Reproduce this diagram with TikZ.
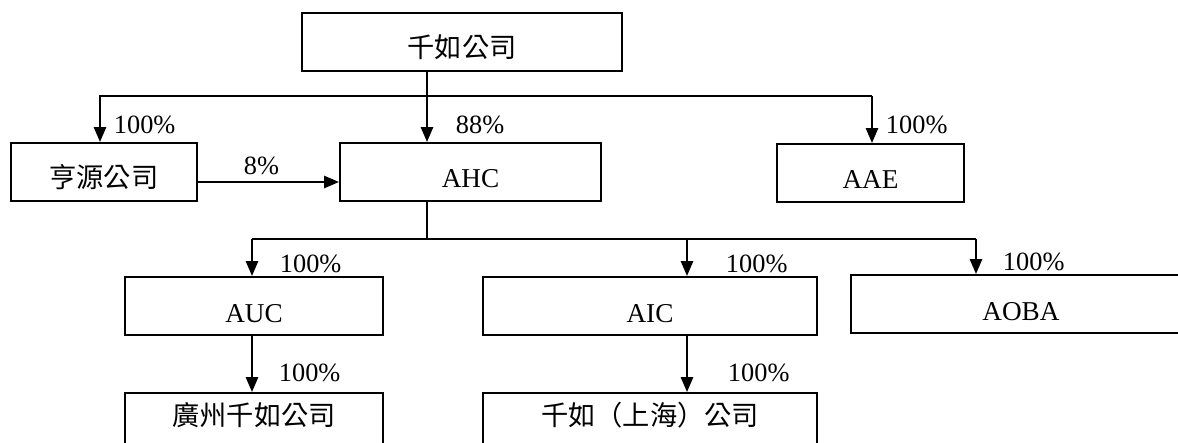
\documentclass[tikz,border=0pt]{standalone}
\usepackage{fontspec}
\setmainfont{Liberation Serif}
\newfontfamily\cjk{Noto Sans CJK TC}
\usetikzlibrary{arrows.meta}

\begin{document}
\begin{tikzpicture}[x=0.02cm,y=-0.02cm,
  line width=1.1pt,
  box node/.style={rectangle,draw,line width=1.2pt,inner sep=0pt,text height=0.9cm,text depth=0.26cm,font=\fontsize{15.5}{18}\selectfont},
  open node/.style={box node,anchor=north,text height=0.64cm,text depth=1.2cm},
  pct node/.style={anchor=base west,inner sep=0pt,font=\fontsize{15}{18}\selectfont},
  arr/.style={-{Triangle[width=7pt,length=8.5pt]}}]
  \useasboundingbox (0,0) rectangle (1178,443);
  \clip (0,0) rectangle (1178,443);

  \node[box node,minimum width=6.4cm] (1) at (462,42) {\cjk 千如公司};
  \node[box node,minimum width=3.72cm] (2) at (104,172) {\cjk 亨源公司};
  \node[box node,minimum width=5.22cm] (3) at (470.5,172) {AHC};
  \node[box node,minimum width=3.74cm] (4) at (870.5,173) {AAE};
  \node[box node,minimum width=5.16cm] (5) at (254,306) {AUC};
  \node[box node,minimum width=6.68cm] (6) at (650,306) {AIC};
  \node[box node,minimum width=6.8cm] (7) at (1021,304) {AOBA};
  \node[open node,minimum width=5.16cm] (8) at (254,392) {\cjk 廣州千如公司};
  \node[open node,minimum width=6.68cm] (9) at (650,392) {\cjk 千如（上海）公司};

  % bus corners
  \coordinate (a) at (100,96);
  \coordinate (b) at (427,96);
  \coordinate (c) at (872,96);
  \coordinate (e) at (252,239);
  \coordinate (f) at (687,239);
  \coordinate (g) at (976,239);

  \draw[arr] (1.south -| b) -- (3.north -| b);
  \draw[arr] (c) -- (a) -- (a |- 2.north);
  \draw[arr] (c) -- (c |- 4.north);
  \draw[arr] ([yshift=-0.2cm]2.east) -- ([yshift=-0.2cm]2.east -| 3.west);

  \draw (3.south -| b) -- (b |- e);
  \draw (e) -- (g);
  \draw[arr] (e) -- (e |- 5.north);
  \draw[arr] (f) -- (f |- 6.north);
  \draw[arr] (g) -- (g |- 7.north);
  \draw[arr] (5.south -| e) -- (8.north -| e);
  \draw[arr] (6.south -| f) -- (9.north -| f);

  \node[pct node] (l1) at (113,133) {100\%};
  \node[pct node] (l2) at (455,133) {88\%};
  \node[pct node] (l3) at (885,133) {100\%};
  \node[pct node] (l4) at (243,174) {8\%};
  \node[pct node] (l5) at (279,272) {100\%};
  \node[pct node] (l6) at (725,272) {100\%};
  \node[pct node] (l7) at (1002,270) {100\%};
  \node[pct node] (l8) at (278,381) {100\%};
  \node[pct node] (l9) at (727,381) {100\%};
\end{tikzpicture}
\end{document}
